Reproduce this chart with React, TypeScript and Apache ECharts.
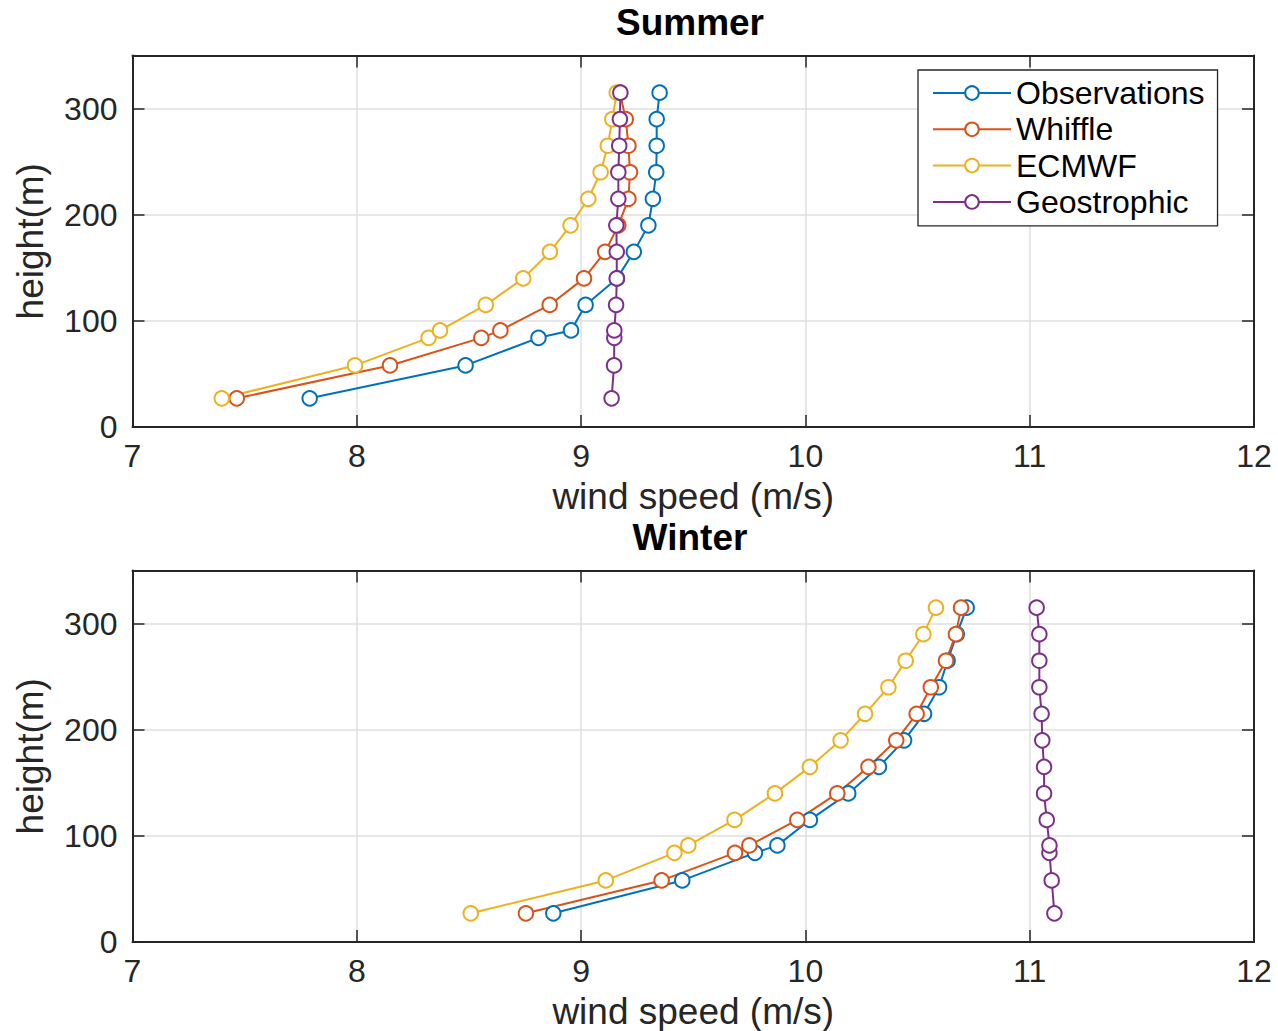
import React, { useEffect, useRef } from "react";
import * as echarts from "echarts";

const heights = [27, 58, 84, 91, 115, 140, 165, 190, 215, 240, 265, 290, 315];
const seriesNames = ["Observations", "Whiffle", "ECMWF", "Geostrophic"];
const colors = ["#0072BD", "#D95319", "#EDB120", "#7E2F8E"];
const panelTitles = ["Summer", "Winter"];

const summerObs = [7.79, 8.485, 8.81, 8.955, 9.02, 9.16, 9.235, 9.3, 9.32, 9.335, 9.337, 9.337, 9.35];
const summerWhiffle = [7.465, 8.148, 8.555, 8.64, 8.86, 9.013, 9.107, 9.166, 9.211, 9.218, 9.211, 9.199, 9.173];
const summerEcmwf = [7.398, 7.992, 8.32, 8.371, 8.575, 8.742, 8.861, 8.953, 9.032, 9.087, 9.119, 9.139, 9.159];
const summerGeo = [9.136, 9.147, 9.148, 9.148, 9.156, 9.159, 9.159, 9.157, 9.166, 9.166, 9.17, 9.173, 9.175];

const winterObs = [8.876, 9.451, 9.775, 9.875, 10.02, 10.191, 10.328, 10.44, 10.529, 10.596, 10.634, 10.675, 10.719];
const winterWhiffle = [8.754, 9.359, 9.686, 9.75, 9.964, 10.142, 10.281, 10.405, 10.496, 10.559, 10.627, 10.671, 10.694];
const winterEcmwf = [8.508, 9.11, 9.416, 9.478, 9.684, 9.864, 10.02, 10.157, 10.266, 10.37, 10.447, 10.526, 10.582];
const winterGeo = [11.11, 11.098, 11.088, 11.088, 11.076, 11.064, 11.064, 11.056, 11.053, 11.043, 11.043, 11.043, 11.031];

const xMin = 7, xMax = 12, xStep = 1;
const yMin = 0, yMax = 350, yStep = 100;

const FONT = "'Liberation Sans', Arial, Helvetica, sans-serif";
const AX = "#262626";

export default function App() {
  const ref = useRef<HTMLDivElement>(null);
  useEffect(() => {
    if (!ref.current) return;
    const chart = echarts.init(ref.current, undefined, { renderer: "svg" });

    const gridTops = [55.5, 570.5];
    const grids = gridTops.map((t) => ({ left: 132.5, top: t, width: 1121.5, height: 371.5, containLabel: false }));

    const xAxes: any[] = [];
    const yAxes: any[] = [];
    gridTops.forEach((_, gi) => {
      xAxes.push({
        type: "value", gridIndex: gi, position: "bottom", min: xMin, max: xMax, interval: xStep,
        name: "wind speed (m/s)", nameLocation: "middle", nameGap: 51,
        nameTextStyle: { fontSize: 37, color: AX, fontFamily: FONT, lineHeight: 37 },
        axisLine: { show: true, onZero: false, lineStyle: { color: AX, width: 2 } },
        axisTick: { show: true, inside: true, length: 12, lineStyle: { color: AX, width: 1.5 } },
        axisLabel: { fontSize: 32, color: AX, fontFamily: FONT, margin: 13, lineHeight: 32 },
        splitLine: { show: true, lineStyle: { color: "#dfdfdf", width: 1.5 } },
      });
      xAxes.push({
        type: "value", gridIndex: gi, position: "top", min: xMin, max: xMax, interval: xStep,
        axisLine: { show: true, onZero: false, lineStyle: { color: AX, width: 2 } },
        axisTick: { show: true, inside: true, length: 12, lineStyle: { color: AX, width: 1.5 } },
        axisLabel: { show: false },
        splitLine: { show: false },
      });
      yAxes.push({
        type: "value", gridIndex: gi, position: "left", min: yMin, max: yMax, interval: yStep,
        name: "height(m)", nameLocation: "middle", nameGap: 84, nameRotate: 90,
        nameTextStyle: { fontSize: 37, color: AX, fontFamily: FONT, lineHeight: 37 },
        axisLine: { show: true, onZero: false, lineStyle: { color: AX, width: 2 } },
        axisTick: { show: true, inside: true, length: 12, lineStyle: { color: AX, width: 1.5 } },
        axisLabel: { fontSize: 32, color: AX, fontFamily: FONT, margin: 15, showMaxLabel: false,
          formatter: (v: number) => (v === yMax ? "" : String(v)) },
        splitLine: { show: true, lineStyle: { color: "#dfdfdf", width: 1.5 } },
      });
      yAxes.push({
        type: "value", gridIndex: gi, position: "right", min: yMin, max: yMax, interval: yStep,
        axisLine: { show: true, onZero: false, lineStyle: { color: AX, width: 2 } },
        axisTick: { show: true, inside: true, length: 12, lineStyle: { color: AX, width: 1.5 } },
        axisLabel: { show: false },
        splitLine: { show: false },
      });
    });

    const panels = [
      [summerObs, summerWhiffle, summerEcmwf, summerGeo],
      [winterObs, winterWhiffle, winterEcmwf, winterGeo],
    ];
    const series: any[] = [];
    panels.forEach((p, gi) => {
      p.forEach((vals, si) => {
        series.push({
          type: "line",
          name: seriesNames[si],
          xAxisIndex: gi * 2,
          yAxisIndex: gi * 2,
          data: vals.map((v, i) => [v, heights[i]]),
          symbol: "emptyCircle",
          symbolSize: 14.5,
          showAllSymbol: true,
          lineStyle: { color: colors[si], width: 2 },
          itemStyle: { color: colors[si], borderColor: colors[si], borderWidth: 2 },
          emphasis: { disabled: true },
        });
      });
    });

    chart.setOption({
      animation: false,
      backgroundColor: "#ffffff",
      title: panelTitles.map((t, i) => ({
        text: t,
        left: 685,
        top: i === 0 ? -1 : 514,
        textAlign: "center",
        textStyle: { fontSize: 37, fontWeight: "bold", color: "#000", fontFamily: FONT, lineHeight: 37 },
      })),
      legend: {
        data: seriesNames,
        orient: "vertical",
        left: 918,
        top: 70,
        itemWidth: 78,
        itemHeight: 17,
        itemGap: 4.3,
        padding: [7, 13, 8, 14],
        borderColor: AX,
        borderWidth: 1.3,
        backgroundColor: "#fff",
        textStyle: { fontSize: 32, color: "#000", fontFamily: FONT, lineHeight: 32 },
      },
      grid: grids,
      xAxis: xAxes,
      yAxis: yAxes,
      series,
    });
    return () => chart.dispose();
  }, []);
  return (
    <div
      ref={ref}
      style={{ position: "fixed", left: 0, top: 0, width: 1278, height: 1031, background: "#fff" }}
    />
  );
}
